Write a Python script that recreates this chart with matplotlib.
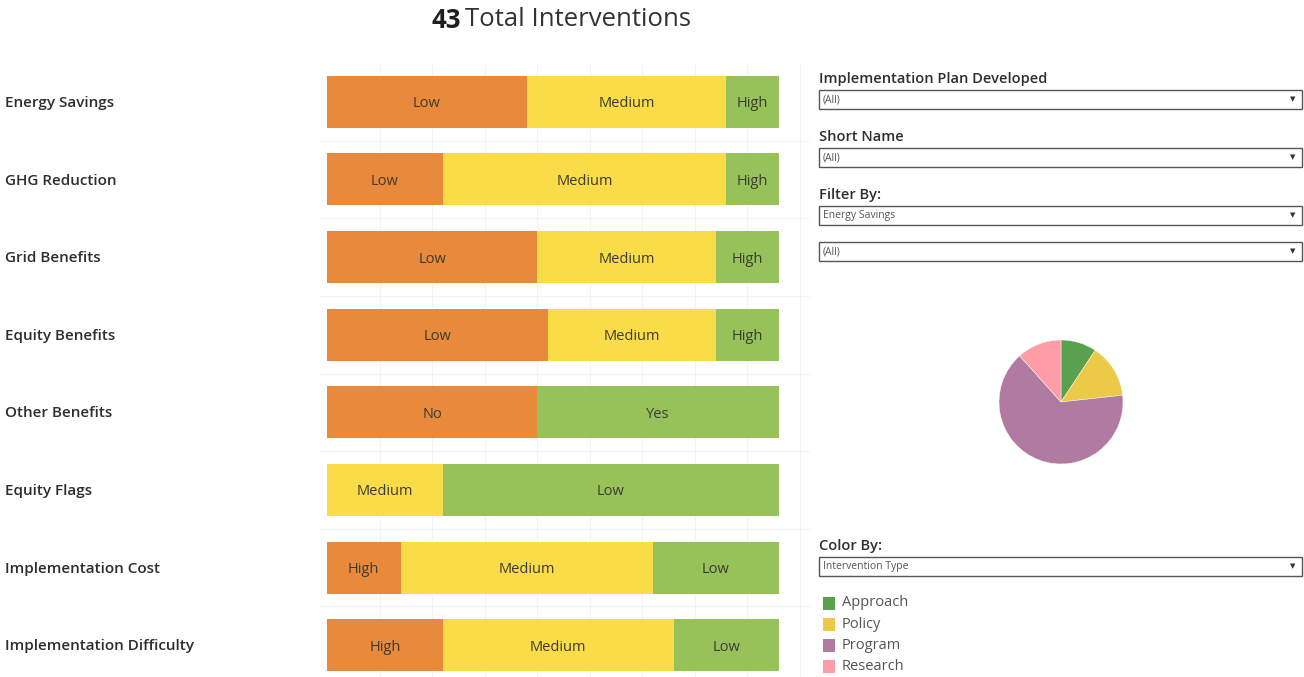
import matplotlib
matplotlib.use("Agg")
import matplotlib.pyplot as plt
from matplotlib.patches import Rectangle

plt.rcParams['font.family'] = ['Open Sans', 'Noto Sans', 'DejaVu Sans']

# --- data -----------------------------------------------------------------
total_interventions = 43

categories = [
    "Energy Savings", "GHG Reduction", "Grid Benefits", "Equity Benefits",
    "Other Benefits", "Equity Flags", "Implementation Cost",
    "Implementation Difficulty",
]
segment_labels = [
    ["Low", "Medium", "High"],
    ["Low", "Medium", "High"],
    ["Low", "Medium", "High"],
    ["Low", "Medium", "High"],
    ["No", "Yes"],
    ["Medium", "Low"],
    ["High", "Medium", "Low"],
    ["High", "Medium", "Low"],
]
segment_counts = [
    [19, 19, 5],
    [11, 27, 5],
    [20, 17, 6],
    [21, 16, 6],
    [20, 23],
    [11, 32],
    [7, 24, 12],
    [11, 22, 10],
]

type_names = ["Approach", "Policy", "Program", "Research"]
type_counts = [4, 6, 28, 5]

filters = [
    ("Implementation Plan Developed", "(All)"),
    ("Short Name", "(All)"),
    ("Filter By:", "Energy Savings"),
    (None, "(All)"),
]
color_by = ("Color By:", "Intervention Type")

# --- styling ----------------------------------------------------------------
ORANGE, YELLOW, GREEN = "#E8893B", "#F9DC48", "#97C25A"
benefit_colors = {"Low": ORANGE, "Medium": YELLOW, "High": GREEN,
                  "No": ORANGE, "Yes": GREEN}
burden_colors = {"High": ORANGE, "Medium": YELLOW, "Low": GREEN}
burden_rows = {"Equity Flags", "Implementation Cost", "Implementation Difficulty"}
type_colors = ["#59A14F", "#EDC948", "#B07AA1", "#FF9DA7"]

W, H = 1304, 677
fig = plt.figure(figsize=(W / 100, H / 100), dpi=100)


def px_axes(x0, y0, x1, y1):
    """Axes from pixel box (top-left origin)."""
    return fig.add_axes([x0 / W, 1 - y1 / H, (x1 - x0) / W, (y1 - y0) / H])


# overlay for the titles, labels and filter boxes
ui = px_axes(0, 0, W, H)
ui.set_xlim(0, W)
ui.set_ylim(H, 0)
ui.axis("off")

ui.text(431, 17, str(total_interventions), fontsize=18.5, fontweight="bold",
        color="#1E1E1E", va="center_baseline", ha="left")
ui.text(465, 17, "Total Interventions", fontsize=18.5, color="#333333",
        va="center_baseline", ha="left")

# --- stacked bars -----------------------------------------------------------
ax = px_axes(320, 63, 810, 677)
px_per_unit = (779 - 327) / total_interventions
ax.set_xlim(-7 / px_per_unit, (810 - 327) / px_per_unit)
row_px = 77.6
ax.set_ylim(len(categories) - 0.5 - (684 - 677) / row_px, -0.5)
ax.axis("off")

for gx in range(5, 50, 5):
    ax.axvline(gx, color="#F3F3F3", lw=0.8, zorder=0)
for i in range(len(categories)):
    ax.axhline(i + 0.5, color="#F3F3F3", lw=0.8, zorder=0)

for i, cat in enumerate(categories):
    cmap = burden_colors if cat in burden_rows else benefit_colors
    left = 0
    for lab, cnt in zip(segment_labels[i], segment_counts[i]):
        ax.barh(i, cnt, left=left, height=0.67, color=cmap[lab], zorder=2)
        ax.text(left + cnt / 2, i, lab, ha="center", va="center_baseline",
                fontsize=10.5, color="#3C3C30", zorder=3)
        left += cnt
    ui.text(5, 103 + row_px * i, cat, fontsize=11, fontweight="semibold",
            color="#2E2E2E", va="center", ha="left")

# --- filter dropdowns -------------------------------------------------------
def dropdown(y_top, value, title=None):
    if title:
        ui.text(819, y_top - 11, title, fontsize=10.5, fontweight="semibold",
                color="#2E2E2E", va="center", ha="left")
    ui.add_patch(Rectangle((819, y_top), 483, 19, facecolor="white",
                           edgecolor="#555555", lw=1.0))
    ui.text(823, y_top + 9.5, value, fontsize=7.5, color="#555555",
            va="center", ha="left")
    ui.text(1293, y_top + 10, "\u25BC", fontsize=5, color="#333333",
            va="center", ha="center")


for (title, value), y_top in zip(filters, [90, 148, 206, 242]):
    dropdown(y_top, value, title)
dropdown(557, color_by[1], color_by[0])

# legend
for k, (name, col) in enumerate(zip(type_names, type_colors)):
    yc = 603 + 21.3 * k
    ui.add_patch(Rectangle((823, yc - 6.5), 12, 13, facecolor=col,
                           edgecolor="none"))
    ui.text(842, yc, name, fontsize=10.5, color="#555555",
            va="center", ha="left")

# --- pie of intervention types ---------------------------------------------
pie_ax = px_axes(999, 340, 1123, 464)
pie_ax.pie(type_counts, colors=type_colors, startangle=90, counterclock=False,
           radius=1.0, wedgeprops=dict(linewidth=0.3, edgecolor="white"))
pie_ax.set_xlim(-1, 1)
pie_ax.set_ylim(-1, 1)
pie_ax.set_aspect("equal")

fig.savefig("out.png", dpi=100)
